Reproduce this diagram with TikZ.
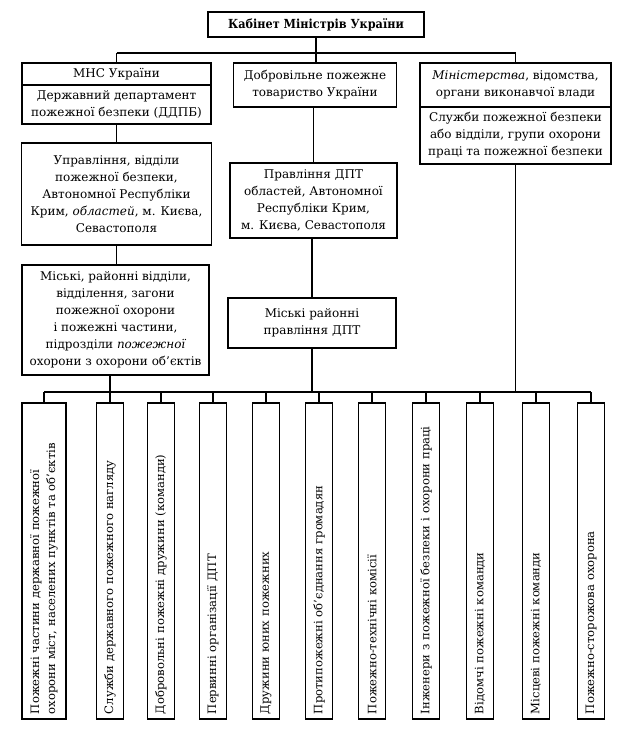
\documentclass[tikz,border=0pt]{standalone}
\usepackage{fontspec}
\setmainfont{DejaVu Serif}
\newfontfamily\titlefont{DejaVu Serif Condensed}
\tikzset{
  box/.style={draw, line width=1.2pt, inner sep=0pt, align=center,
    font=\fontsize{12}{17}\selectfont, fill=white},
  vbox/.style={draw, line width=1.2pt, inner xsep=5pt, inner ysep=0pt,
    rotate=90, minimum width=316pt, text width=306pt, align=left,
    minimum height=27pt, font=\fontsize{11.6}{16}\selectfont},
  conn/.style={line width=1.2pt}
}
\begin{document}
\begin{tikzpicture}[x=1pt,y=-1pt]
\useasboundingbox[fill=white] (0,0) rectangle (631,732);
% top
\node[box, minimum width=216pt, minimum height=25pt, font=\fontsize{12.5}{15}\selectfont\titlefont\bfseries] (km) at (316,24.5) {Кабінет Міністрів України};
% level 1
\node[box, minimum width=189pt, minimum height=22pt] (mns) at (116.5,74) {МНС України};
\node[box, minimum width=189pt, minimum height=39pt] (ddpb) at (116.5,104.5) {Державний департамент\\пожежної безпеки (ДДПБ)};
\node[box, minimum width=163pt, minimum height=44pt] (dpt) at (315,85) {Добровільне пожежне\\товариство України};
\node[box, minimum width=191pt, minimum height=44pt] (min) at (515.5,85) {{\itshape Міністерства}, відомства,\\органи виконавчої влади};
\node[box, minimum width=191pt, minimum height=57pt] (slu) at (515.5,135.5) {Служби пожежної безпеки\\або відділи, групи охорони\\праці та пожежної безпеки};
% level 2
\node[box, minimum width=190pt, minimum height=102pt] (upr) at (116.5,194) {Управління, відділи\\пожежної безпеки,\\Автономної Республіки\\Крим, {\itshape областей}, м. Києва,\\Севастополя};
\node[box, minimum width=167pt, minimum height=75pt] (pdpt) at (313.5,200.5) {Правління ДПТ\\областей, Автономної\\Республіки Крим,\\м. Києва, Севастополя};
% level 3
\node[box, minimum width=187pt, minimum height=110pt] (misk) at (115.5,320) {Міські, районні відділи,\\відділення, загони\\пожежної охорони\\і пожежні частини,\\підрозділи {\itshape пожежної}\\охорони з охорони об’єктів};
\node[box, minimum width=168pt, minimum height=50pt] (mdpt) at (312,323) {Міські районні\\правління ДПТ};
% bottom row
\node[vbox, minimum height=44pt] (b1) at (44,561) {Пожежні частини державної пожежної\\охорони міст, населених пунктів та об’єктів};
\node[vbox] (b2) at (110,561) {Служби державного пожежного нагляду};
\node[vbox] (b3) at (161,561) {Добровольні пожежні дружини (команди)};
\node[vbox] (b4) at (213,561) {Первинні організації ДПТ};
\node[vbox] (b5) at (266,561) {Дружини юних пожежних};
\node[vbox] (b6) at (319,561) {Протипожежні об’єднання громадян};
\node[vbox] (b7) at (372,561) {Пожежно-технічні комісії};
\node[vbox] (b8) at (426,561) {Інженери з пожежної безпеки і охорони праці};
\node[vbox] (b9) at (480,561) {Відомчі пожежні команди};
\node[vbox] (b10) at (536,561) {Місцеві пожежні команди};
\node[vbox] (b11) at (591,561) {Пожежно-сторожова охорона};
% upper bus
\coordinate (uL) at (116.5,53);
\coordinate (uR) at (515.5,53);
\draw[conn] (uL) -- (uR);
\draw[conn] (km.south) -- (km.south |- dpt.north);
\draw[conn] (uL) -- (mns.north);
\draw[conn] (uR) -- (min.north);
% columns
\draw[conn] (ddpb.south) -- (upr.north);
\draw[conn] (upr.south) -- (upr.south |- misk.north);
\draw[conn] (dpt.south -| pdpt.north) -- (pdpt.north);
\draw[conn] (pdpt.south -| mdpt.north) -- (mdpt.north);
% lower bus
\coordinate (lL) at (44,392);
\coordinate (lR) at (591,392);
\draw[conn] (lL) -- (lR);
\draw[conn] (misk.south -| b2.east) -- (b2.east);
\draw[conn] (mdpt.south) -- (mdpt.south |- lL);
\draw[conn] (slu.south) -- (slu.south |- lL);
\foreach \b in {b1,b3,b4,b5,b6,b7,b8,b9,b10,b11}
  \draw[conn] (\b.east |- lL) -- (\b.east);
\end{tikzpicture}
\end{document}
